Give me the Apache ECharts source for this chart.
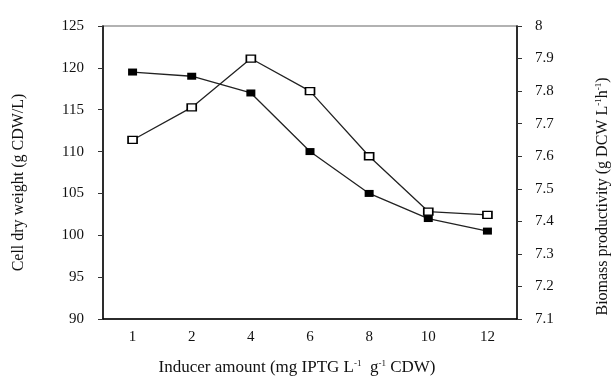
<!DOCTYPE html>
<html>
<head>
<meta charset="utf-8">
<script src="https://cdn.jsdelivr.net/npm/echarts@6/dist/echarts.min.js"></script>
<style>
  html, body { margin: 0; padding: 0; background: #fff; }
  #chart { width: 612px; height: 376px; }
</style>
</head>
<body>
<div id="chart"></div>
<script>
// 數據
const inducer = ['1', '2', '4', '6', '8', '10', '12'];
const cellDryWeight = [119.5, 119, 117, 110, 105, 102, 100.5];
const productivity = [7.65, 7.75, 7.9, 7.8, 7.6, 7.43, 7.42];

const serif = 'Liberation Serif';
const supStyle = { fontFamily: serif, fontSize: 9, color: '#111', verticalAlign: 'top', padding: [0, 0, 8, 0] };
const chart = echarts.init(document.getElementById('chart'));

chart.setOption({
    animation: false,
    grid: {
        left: 103, right: 95, top: 26, bottom: 57,
        outerBoundsMode: 'none',
        show: true, borderColor: '#999', borderWidth: 1.5
    },
    xAxis: {
        type: 'category',
        data: inducer,
        name: 'Inducer amount (mg IPTG L{sup|-1}  g{sup|-1} CDW)',
        nameLocation: 'middle',
        nameGap: 40,
        nameTextStyle: {
            fontFamily: serif, fontSize: 17, color: '#111', padding: [0, 26, 0, 0],
            rich: { sup: supStyle }
        },
        axisLine: { lineStyle: { color: '#000', width: 1.5 } },
        axisTick: { alignWithLabel: true, length: 4, lineStyle: { color: '#333' } },
        axisLabel: { fontFamily: serif, fontSize: 15, color: '#111', margin: 11 }
    },
    yAxis: [
        {
            type: 'value',
            min: 90, max: 125, interval: 5,
            name: 'Cell dry weight (g CDW/L)',
            nameLocation: 'middle',
            nameRotate: 90,
            nameGap: 76,
            nameTextStyle: { fontFamily: serif, fontSize: 16, color: '#111', padding: [0, 20, 0, 0] },
            axisLine: { show: true, lineStyle: { color: '#000', width: 1.5 } },
            axisTick: { show: true, length: 5, lineStyle: { color: '#333' } },
            axisLabel: { fontFamily: serif, fontSize: 15, color: '#111', margin: 19 },
            splitLine: { show: false }
        },
        {
            type: 'value',
            min: 7.1, max: 8, interval: 0.1,
            name: 'Biomass productivity (g DCW L{sup|-1}h{sup|-1})',
            nameLocation: 'middle',
            nameRotate: 90,
            nameGap: 77,
            nameTextStyle: {
                fontFamily: serif, fontSize: 16, color: '#111', padding: [0, 48, 0, 0],
                rich: { sup: supStyle }
            },
            axisLine: { show: true, lineStyle: { color: '#000', width: 1.5 } },
            axisTick: { show: true, length: 5, lineStyle: { color: '#333' } },
            axisLabel: {
                fontFamily: serif, fontSize: 15, color: '#111', margin: 18,
                formatter: v => (Math.round(v * 10) / 10).toString()
            },
            splitLine: { show: false }
        }
    ],
    series: [
        {
            name: 'Cell dry weight',
            type: 'line',
            yAxisIndex: 0,
            data: cellDryWeight,
            symbol: 'rect',
            symbolSize: [9, 7],
            itemStyle: { color: '#000' },
            lineStyle: { color: '#222', width: 1.3 }
        },
        {
            name: 'Biomass productivity',
            type: 'line',
            yAxisIndex: 1,
            data: productivity,
            symbol: 'rect',
            symbolSize: [9, 7],
            itemStyle: { color: '#fff', borderColor: '#000', borderWidth: 1.5 },
            lineStyle: { color: '#222', width: 1.3 }
        }
    ]
});
</script>
</body>
</html>
